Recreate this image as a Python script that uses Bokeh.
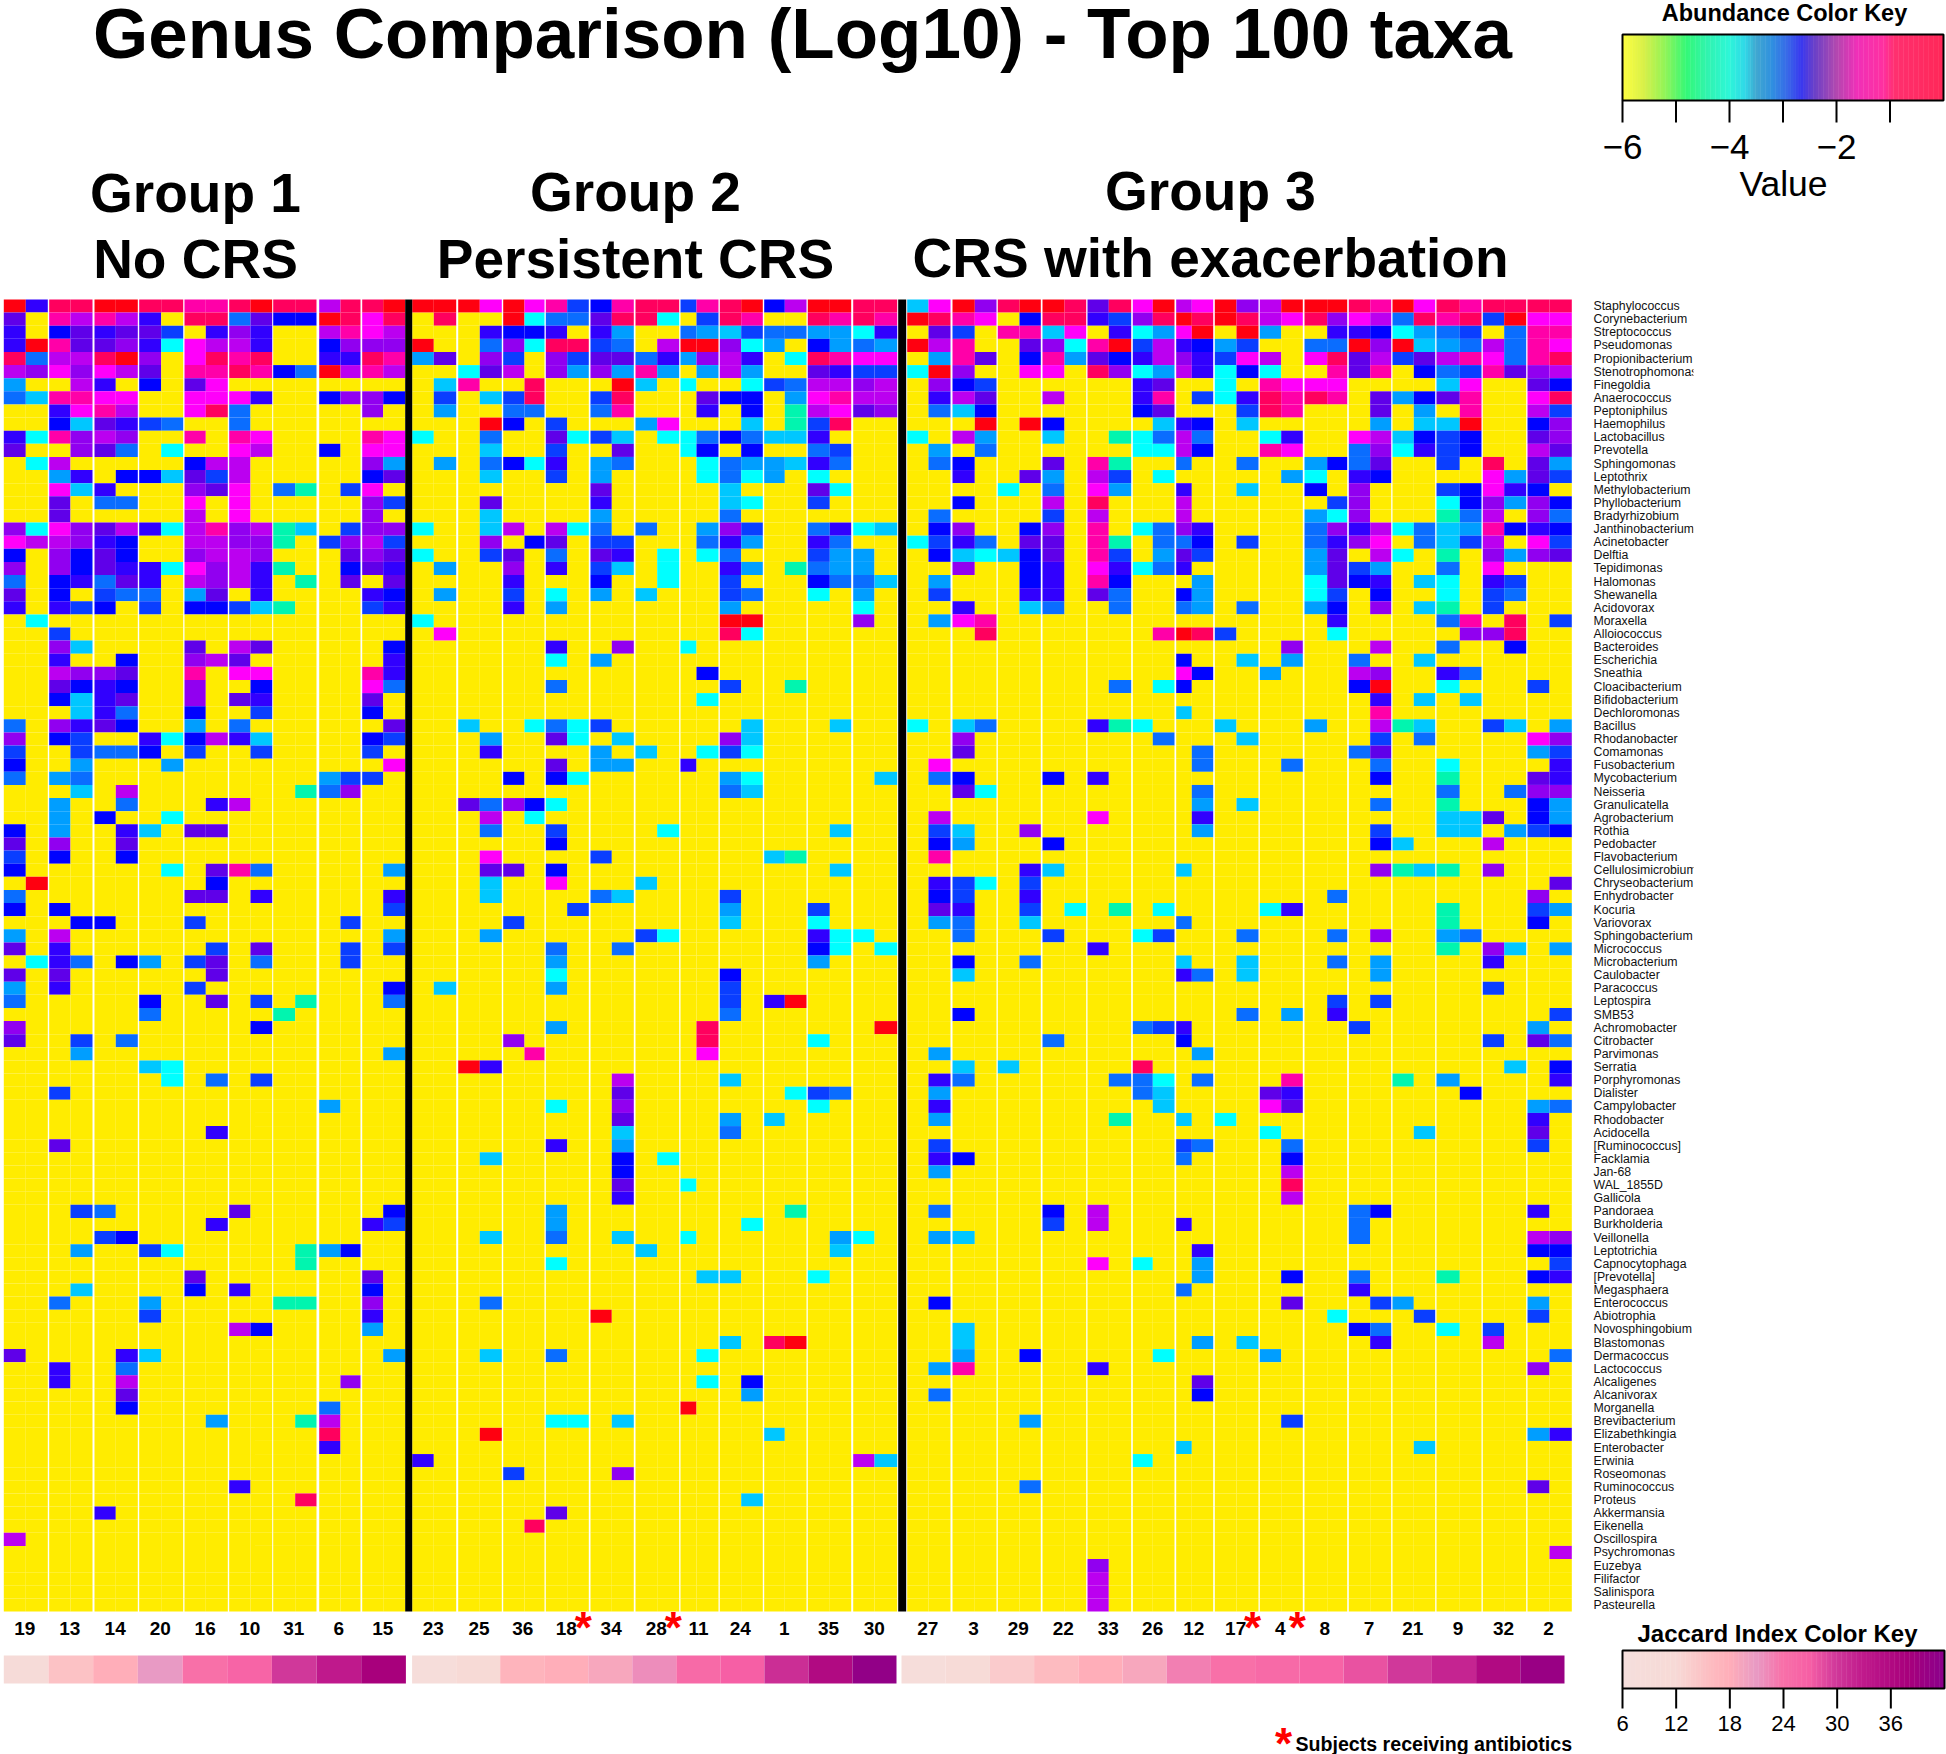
import numpy as np
from bokeh.embed import file_html
from bokeh.resources import INLINE
from bokeh.plotting import figure
from bokeh.models import ColumnDataSource, LinearColorMapper, Range1d
from bokeh.core.properties import value

# ---------- data ----------
chart_title = "Genus Comparison (Log10) - Top 100 taxa"
group_titles = [("Group 1", "No CRS"), ("Group 2", "Persistent CRS"), ("Group 3", "CRS with exacerbation")]

taxa = ["Staphylococcus", "Corynebacterium", "Streptococcus", "Pseudomonas", "Propionibacterium", "Stenotrophomonas",
        "Finegoldia", "Anaerococcus", "Peptoniphilus", "Haemophilus", "Lactobacillus", "Prevotella", "Sphingomonas",
        "Leptothrix", "Methylobacterium", "Phyllobacterium", "Bradyrhizobium", "Janthinobacterium", "Acinetobacter",
        "Delftia", "Tepidimonas", "Halomonas", "Shewanella", "Acidovorax", "Moraxella", "Alloiococcus", "Bacteroides",
        "Escherichia", "Sneathia", "Cloacibacterium", "Bifidobacterium", "Dechloromonas", "Bacillus", "Rhodanobacter",
        "Comamonas", "Fusobacterium", "Mycobacterium", "Neisseria", "Granulicatella", "Agrobacterium", "Rothia",
        "Pedobacter", "Flavobacterium", "Cellulosimicrobium", "Chryseobacterium", "Enhydrobacter", "Kocuria",
        "Variovorax", "Sphingobacterium", "Micrococcus", "Microbacterium", "Caulobacter", "Paracoccus", "Leptospira",
        "SMB53", "Achromobacter", "Citrobacter", "Parvimonas", "Serratia", "Porphyromonas", "Dialister", "Campylobacter",
        "Rhodobacter", "Acidocella", "[Ruminococcus]", "Facklamia", "Jan-68", "WAL_1855D", "Gallicola", "Pandoraea",
        "Burkholderia", "Veillonella", "Leptotrichia", "Capnocytophaga", "[Prevotella]", "Megasphaera", "Enterococcus",
        "Abiotrophia", "Novosphingobium", "Blastomonas", "Dermacoccus", "Lactococcus", "Alcaligenes", "Alcanivorax",
        "Morganella", "Brevibacterium", "Elizabethkingia", "Enterobacter", "Erwinia", "Roseomonas", "Ruminococcus",
        "Proteus", "Akkermansia", "Eikenella", "Oscillospira", "Psychromonas", "Euzebya", "Filifactor", "Salinispora",
        "Pasteurella"]

subjects_g1 = ["19", "13", "14", "20", "16", "10", "31", "6", "15"]
subjects_g2 = ["23", "25", "36", "18", "34", "28", "11", "24", "1", "35", "30"]
subjects_g3 = ["27", "3", "29", "22", "33", "26", "12", "17", "4", "8", "7", "21", "9", "32", "2"]
on_antibiotics = ["18", "28", "17", "4"]

jaccard_g1 = [10, 15, 18, 21, 24, 26, 30, 33, 38]
jaccard_g2 = [8, 12, 17, 18, 19, 22, 25, 27, 31, 36, 41]
jaccard_g3 = [8, 11, 14, 16, 18, 19, 23, 24, 25, 26, 28, 30, 32, 36, 40]

# log10 abundance: one letter per cell, two cells per subject
abundance_levels = {".": -6.0, "a": -4.3, "c": -4.0, "d": -3.7, "e": -3.4, "f": -3.1, "g": -2.9, "h": -2.7,
                    "i": -2.5, "j": -2.3, "k": -2.1, "l": -1.9, "m": -1.5, "n": -1.2, "o": -0.9, "p": -0.6}

rows_g1 = [
 "pi oo pp oo nn op oo lo op", "j. nl nl i. oo fj hh po mo", "i. hj ij jg .i ki .. ln ml", "ip nj jk ic ml li .. hk kk",
 "of ll op k. mo no .. ii on", "lk mk ml j. nn on hf pl nl", "e. .l i. h. jm .. .. .. ..", "fd nn mm .. mm mi .. hk kh",
 ".. im nl .. mo f. .. .. k.", ".. hd ji gf .. f. .. .. ..", "ic nk lk .. n. nm .. .. nm", "j. .k jf .c .. ml .. h. mm",
 ".c l. .. .. hl l. .. .. ke", ".. ei .h hd jg l. .. .. hj", ".. md i. .. kj m. fa .g m.", ".. j. ff .. m. m. .. .. kg",
 ".. j. .. .. l. m. .. .. k.", "kc mk jl ic ln kl ad .g kk", "ml lk ih .. ll kk a. gk lg", "h. kh jh .. kl lk .. .j kj",
 "k. kh ji ic mk li a. .h ji", "f. hi fj i. lk li .a .j .j", "j. h. gf f. ej .i .. .. ih", "i. ig h. g. hh gd a. .. gi",
 ".c .. .. .. .. .. .. .. ..", ".. g. .. .. .. .. .. .. ..", ".. kd .. .. j. lj .. .. .h", ".. i. .h .. kl j. .. .. .i",
 ".. lk kj .. n. mm .. .. ni", ".. jh ih .. k. .h .. .. mf", ".. hd ij .. k. ji .. .. j.", ".. .d if .. h. .g .. .. h.",
 "f. ki jh .. e. f. .. .. .j", "k. hg .. ic hl id .. .. hg", "g. .g ff h. g. .g .. .. g.", "h. .e .. .e .. .. .. .. .m",
 "f. ef .. .. .. .. .. eg g.", ".. .d .l .. .. .. .a fk ..", ".. e. .f .. .i l. .. .. ..", ".. e. h. .c .. .. .. .. ..",
 "h. e. .i d. jj .. .. .. ..", "j. k. .j .. .. .. .. .. ..", "g. h. .h .. .. .. .. .. ..", "h. .. .. .c .j nf .. .. .e",
 ".p .. .. .. .h .. .. .. ..", "f. .. .. .. jj .i .. .. .i", "h. h. .. .. .. .. .. .. .g", ".. .h h. .. g. .. .. .g ..",
 "e. l. .. .. .. .. .. .. .e", "j. i. .. .. .g .j .. .g .g", ".c if .h e. gj .f .. .g ..", "j. j. .. .. .j .. .. .. ..",
 "e. i. .. .. g. .. .. .. .h", "f. .. .. h. .j .g .a .. .f", ".. .. .. f. .. .. a. .. ..", "k. .. .. .. .. .h .. .. ..",
 "j. .g .f .. .. .. .. .. ..", ".. .e .. .. .. .. .. .. .e", ".. .. .. dc .. .. .. .. ..", ".. .. .. .c .f .g .. .. ..",
 ".. g. .. .. .. .. .. .. ..", ".. .. .. .. .. .. .. e. ..", "", ".. .. .. .. .i .. .. .. ..",
 ".. j. .. .. .. .. .. .. ..", "", "", "", "", ".. .g f. .. .. j. .. .. .h",
 ".. .. .. .. .i .. .. .. ig", ".. .. gh .. .. .. .. .. ..", ".. .e .. gc .. .. .a eh ..", ".. .. .. .. .. .. .a .. ..",
 ".. .. .. .. j. .. .. .. j.", ".. .d .. .. h. i. .. .. h.", ".. f. .. e. .. .. aa .. k.", ".. .. .. g. .. .. .. .. i.",
 ".. .. .. .. .. lh .. .. e.", "", "j. .. .i d. .. .. .. .. .e", ".. i. .f .. .. .. .. .. ..",
 ".. i. .l .. .. .. .. .k ..", ".. .. .j .. .. .. .. .. ..", ".. .. .h .. .. .. .. f. ..", ".. .. .. .. .e .. .a l. ..",
 ".. .. .. .. .. .. .. o. ..", ".. .. .. .. .. .. .. i. ..", "", "", ".. .. .. .. .. i. .. .. ..",
 ".. .. .. .. .. .. .o .. ..", ".. .. i. .. .. .. .. .. ..", "", "l. .. .. .. .. .. .. .. ..", "", "", "", "", "",
]

rows_g2 = [
 "pp pm pm ng hn oo gn op hl pp oo", ".o .. pc ff jo oc .g on .. on on", ".. .i hh i. ie .. fe dg ff ee ci", "p. .f kc oo gf .l pp kc e. he fe",
 "ej .k g. kg jj fi ek li .c on mm", ".. cj l. ke ke ne .e le .. ji gg", ".d n. .o .. .p d. c. .c gf ll kl", ".g .d go .. go .. .j hh .e mn ll",
 ".e .. ff .. fn .. .i .h .a lm jk", ".. .p h. g. .. em .. .d .a go ..", "c. .f .. jc gd .c cf hf dd i. ..", ".. .d .. g. .j .. ch .h .. fg ..",
 ".e .f hc i. ef .. .c fe ed if ..", ".. .d .. g. e. .. .c fc e. c. ..", ".. .. .. .. j. .. .. d. .. jc ..", ".. .j .. .. i. .. .. dc .. g. ..",
 ".. .d .. .. e. .. .. f. .. .. ..", "c. .d l. lc f. f. .e kg .. fi cd", ".. .k .h j. gg .. .f ie .. if ..", "c. .g j. f. ji .c .c f. .. ge e.",
 ".e .. k. i. gd .c .. ie .a fe e.", ".. .. i. .. h. .c .. g. .. hf fd", ".e .. g. c. e. d. .. gf .. c. e.", ".. .. i. e. .. .. .. e. .. .. c.",
 "c. .. .. .. .. .. .. pp .. .. k.", ".m .. .. .. .. .. .. oc .. .. ..", ".. .. .. i. .k .. c. .. .. .. ..", ".. .. .. c. e. .. .. .. .. .. ..",
 ".. .. .. .. .. .. .h .. .. .. ..", ".. .. .. f. .. .. .. g. .a .. ..", ".. .. .. .. .. .. .c .. .. .. ..", "",
 ".. d. .c fc g. .. .. .d .. .d ..", ".. .e .. jc .d .. .. kd .. .. ..", ".. .i .. .. e. d. .c gc .. .. ..", ".. .. .. j. ee .. i. .. .. .. ..",
 ".. .. h. hc .. .. .. ec .. .. .d", ".. .. .. .. .. .. .. fd .. .. ..", ".. jf kh c. .. .. .. .. .. .. ..", ".. .l .c .. .. .. .. .. .. .. ..",
 ".. .f .. g. .. .c .. .. .. .d ..", ".. .. .. h. .. .. .. .. .. .. ..", ".. .m .. .. g. .. .. .. da .. ..", ".. .j j. h. .. .. .. .. .. .d ..",
 ".. .d .. m. .. d. .. .. .. .. ..", ".. .d .. .. fd .. .. g. .. .. ..", ".. .. .. .g .. .. .. e. .. g. ..", ".. .. g. .. .. .. .. d. .. c. ..",
 ".. .e .. .. .. gc .. .. .. ic c.", ".. .. .. f. .f .. .. .. .. hc .c", ".. .. .. e. .. .. .. .. .. e. ..", ".. .. .. c. .. .. .. h. .. .. ..",
 ".d .. .. e. .. .. .. g. .. .. ..", ".. .. .. .. .. .. .. g. ip .. ..", ".. .. .. .. .. .. .. f. .. .. ..", ".. .. .. e. .. .. .o .. .. .. .p",
 ".. .. k. .. .. .. .o .. .. c. ..", ".. .. .n .. .. .. .m .. .. .. ..", ".. pi .. .. .. .. .. .. .. .. ..", ".. .. .. .. .l .. .. d. .. .. ..",
 ".. .. .. .. .j .. .. .. .c gf ..", ".. .. .. c. .k .. .. .. .. c. ..", ".. .. .. .. .j .. .. e. d. .. ..", ".. .. .. .. .d .. .. f. .. .. ..",
 ".. .. .. i. .e .. .. .. .. .. ..", ".. .d .. .. .h .c .. .. .. .. ..", ".. .. .. .. .h .. .. .. .. .. ..", ".. .. .. .. .j .. c. .. .. .. ..",
 ".. .. .. .. .i .. .. .. .. .. ..", ".. .. .. e. .. .. .. .. .a .. ..", ".. .. .. e. .. .. .. .c .. .. ..", ".. .d .. f. .d .. c. .. .. .e c.",
 ".. .. .. .. .. d. .. .. .. .d ..", ".. .. .. c. .. .. .. .. .. .. ..", ".. .. .. .. .. .. .d d. .. c. ..", "",
 ".. .f .. .. .. .. .. .. .. .. ..", ".. .. .. .. p. .. .. .. .. .. ..", "", ".. .. .. .. .. .. .. d. op .. ..",
 ".. .d .. f. .. .. .c .. .. .. ..", "", ".. .. .. .. .. .. .c .h .. .. ..", ".. .. .. .. .. .. .. .e .. .. ..",
 ".. .. .. .. .. .. p. .. .. .. ..", ".. .. .. cc .d .. .. .. .. .. ..", ".. .p .. .. .. .. .. .. d. .. ..", "",
 "i. .. .. .. .. .. .. .. .. .. ld", ".. .. g. .. .k .. .. .. .. .. ..", "", ".. .. .. .. .. .. .. .d .. .. ..",
 ".. .. .. j. .. .. .. .. .. .. ..", ".. .. .o .. .. .. .. .. .. .. ..", "", "", "", "", "", "",
]

rows_g3 = [
 "dm pk op po jo mp lm pk lp pp on pm on oo oo", "po nm .h oo ig ko po po lm ok ml fo no gp mm", ".j g. nn dm .i ce mp .p e. .i ih ce fg .f nn",
 "pl n. .j kc np gl ih eg .. ff pk pd ef lf nm", ".e nj .h ne jh il ki gm l. mo jl gj ln mf no", "cp k. .m m. ok ce li ch c. .n jn .h fg nj kl",
 ".k hg .. .. .. ij .. c. nm mm .. .. dm .. jh", ".i lj .. l. .. in .g ci on on .j eh jn .. mo", ".f dh .. .. .. hj .. .g on .. .j .e .n .. lg",
 ".. .p .p h. .. .d ih .d .. .. .e .d dp .. hk", "c. le .. d. .a cf lf .. ci .. ml dh gh .. jk", ".e .f .. .. .. cc lh .. nm .. fk ci gh .. lj",
 ".f h. .. j. na .. f. .f .. eh fj .. g. o. je", ".. i. .j e. lg .c .. .. .e c. ih .. .. me jg", ".. .. c. f. me .. i. .d .. h. k. .. gh mi h.",
 ".. h. .. l. o. .. l. .. .. .g k. .. ch ke kh", ".f .. .. g. l. .. l. .. .. ec k. .. af l. kf", ".h k. .h k. n. cf ki .. .. fk il cf de nh ih",
 "cg if .j j. na .f fh .g .. fi km .f dg l. mg", ".h dc dh j. ng .e jg .. .. ej .l c. a. ke kj", ".. k. .h i. mi cf i. .. .. ej ge .. f. m. ..",
 ".e .. .h i. nh .. .e .. .. cj hi .d c. ig ..", ".g .. .i i. jf .. he .. .. cg .h .. c. gf ..", ".. i. .d f. .f .. fe .f .. eh .k .d a. g. ..",
 ".e mn .. .. .. .. .. .. .. .i .. .. fn .o .g", ".. .o .. .. .. .n po g. .. .c .. .. .k ko ..", ".. .. .. .. .. .. .. .. .k .. .l .. f. .h ..",
 ".. .. .. .. .. .. h. .d .e .. f. .d .. .. ..", ".. .. .. .. .. .. mh .. e. .. lk .. if .. ..", ".. .. .. .. .f .c h. .. .. .. hp .. c. .. g.",
 ".. .. .. .. .. .. .. .. .. .. .i .d .d .. ..", ".. .. .. .. .. .. d. .. .. .. .n .. .. .. ..", "c. df .. .. ia c. .. d. .. e. .l ad .. gd .e",
 ".. k. .. .. .. .f .. .d .. .. .g .f .. .. mk", ".. j. .. .. .. .. .f .. .. .. fj .. .. .. eg", ".m .. .. .. .. .. .f .. .f .. .f .. c. .. .i",
 ".f h. .. h. i. .. .. .. .. .. .h .. a. .. ji", ".. jc .. .. .. .. .f .. .. .. .. .. f. .f kk", ".. .. .. .. .. .. .e .d .. .. .f .. a. .. he",
 ".l .. .. .. m. .. .i .. .. .. .. .. dd j. he", ".g d. .k .. .. .. .e .. .. .. .g .. dd .e gh", ".h e. .. h. .. .. .. .. .. .. .h d. .. l. ..",
 ".n .. .. .. .. .. .. .. .. .. .. .. .. .. ..", ".. .. .i d. .. .. d. .. .. .. .k ad a. k. ..", ".i gc .g .. .. .. .. .. .. .. .. .. .. .. .j",
 ".h g. .i .. .. .. .. .. .. .f .. .. .. .. k.", ".j i. .g .c .a .c .. .. ci .. .. .. a. .. ge", ".e f. .d .. .. .. f. .. .. .. .. .. a. .. h.",
 ".. f. .. g. .. cg .. .f .. .f .k .. ef .. ..", ".. .. .. .. i. .. .. .. .. .. .. .. a. kd .e", ".. h. .f .. .. .. d. .d .. .f .e .. .. i. ..",
 ".. d. .. .. .. .. if .d .. .. .e .. .. .. ..", ".. .. .. .. .. .. .. .. .. .. .. .. .. g. ..", ".. .. .. .. .. .. .. .. .. .g .g .. .. .. ..",
 ".. h. .. .. .. .. .. .f .e .i .. .. .. .. .g", ".. .. .. .. .. fg i. .. .. .. g. .. .. .. e.", ".. .. .. f. .. .. h. .. .. .. .. .. .. g. jf",
 ".e .. .. .. .. .. .e .. .. .. .. .. .. .. ..", ".. d. d. .. .. o. .. .. .. .. .. .. .. .d .h", ".i f. .. .. .f fc .f .. .n .. .. a. e. .. .i",
 ".e .. .. .. .. fd .. .. ji .. .. .. .h .. ..", ".i .. .. .. .. .d .. .. mj .. .. .. .. .. ef", ".e .. .. .. .a .. d. c. .. .. .. .. .. .. i.",
 ".. .. .. .. .. .. .. .. c. .. .. .d .. .. j.", ".g .. .. .. .. .. gf .. .f .. .. .. .. .. g.", ".i h. .. .. .. .. f. .. .h .. .. .. .. .. ..",
 ".e .. .. .. .. .. .. .. .l .. .. .. .. .. ..", ".. .. .. .. .. .. .. .. .o .. .. .. .. .. ..", ".. .. .. .. .. .. .. .. .l .. .. .. .. .. ..",
 ".f .. .. h. l. .. .. .. .. .. fh .. .. .. i.", ".. .. .. g. l. .. i. .. .. .. f. .. .. .. ..", ".e d. .. .. .. .. .. .. .. .. f. .. .. .. lk",
 ".. .. .. .. .. .. .i .. .. .. .. .. .. .. hh", ".. .. .. .. m. c. .e .. .. .. .. .. .. .. .g", ".. .. .. .. .. .. .e .. .h .. f. .. a. .. hi",
 ".. .. .. .. .. .. f. .. .. .. i. .. .. .. ..", ".h .. .. .. .. .. .. .. .j .. .g e. .. .. e.", ".. .. .. .. .. .. .. .. .. .c .. .g .. .. g.",
 ".. d. .. .. .. .. .. .. .. .. hf .. c. g. ..", ".. d. .. .. .. .. .e .d .. .. .i .. .. l. ..", ".. e. .h .. .. .c .. .. e. .. .. .. .. .. .f",
 ".e n. .. .. i. .. .. .. .. .. .. .. .. .. k.", ".. .. .. .. .. .. .j .. .. .. .. .. .. .. ..", ".f .. .. .. .. .. .h .. .. .. .. .. .. .. ..",
 "", ".. .. .e .. .. .. .. .. .g .. .. .. .. .. ..", ".. .. .. .. .. .. .. .. .. .. .. .. .. .. ei",
 ".. .. .. .. .. .. d. .. .. .. .. .d .. .. ..", ".. .. .. .. .. c. .. .. .. .. .. .. .. .. ..", "",
 ".. .. .f .. .. .. .. .. .. .. .. .. .. .. j.", "", "", "", "", ".. .. .. .. .. .. .. .. .. .. .. .. .. .. .l",
 ".. .. .. .. k. .. .. .. .. .. .. .. .. .. ..", ".. .. .. .. l. .. .. .. .. .. .. .. .. .. ..",
 ".. .. .. .. l. .. .. .. .. .. .. .. .. .. ..", ".. .. .. .. l. .. .. .. .. .. .. .. .. .. ..",
]

# ---------- layout (positions in page pixels; the page is drawn 1:1) ----------
W, H = 1946, 1754
# left / split / right of every subject's pair of cells
pair_edges = [
 (3.3, 25.3, 47.3), (48.7, 70, 92), (94, 115.3, 137.3), (138.7, 160.7, 182.7), (184, 205.3, 227.3), (228.7, 250, 271.7),
 (272.7, 294.7, 316), (318.7, 340, 360), (361.7, 382.7, 404.7),
 (411.7, 433.3, 455.7), (457.7, 479.3, 501.3), (502.7, 524, 544), (545.3, 566.7, 588.3), (590, 611.3, 633.3),
 (635, 656.7, 678.7), (680, 696, 718), (719.3, 740.7, 762.3), (763.7, 784.3, 806), (807.3, 829.3, 850.7), (852.7, 874, 896.7),
 (906.7, 928, 950), (952, 974.3, 996), (997.3, 1019, 1040.3), (1042, 1064, 1085.7), (1087, 1108.3, 1130.7), (1132.3, 1152.3, 1174),
 (1175.7, 1191.3, 1212.7), (1214.3, 1236, 1258), (1259.3, 1280.7, 1302.3), (1304, 1326.7, 1346.7), (1348.3, 1369.7, 1390.7),
 (1392, 1413.3, 1434.7), (1436, 1459.3, 1481), (1482.3, 1503.7, 1525.7), (1527, 1549, 1571.3)]
heat_top, heat_bottom = 299.0, 1611.0
row_h = (heat_bottom - heat_top) / len(taxa)


def ramp(stops, n=256):
    xs = [s[0] for s in stops]
    rgb = np.array([[int(s[1][i:i + 2], 16) for i in (1, 3, 5)] for s in stops], float)
    t = np.linspace(xs[0], xs[-1], n)
    return ["#%02x%02x%02x" % tuple(int(round(np.interp(v, xs, rgb[:, k]))) for k in range(3)) for v in t]


heat_palette = ramp([(-6, "#FFEC00"), (-4.3, "#00F5B0"), (-4.0, "#00FFFF"), (-3.7, "#00C8FF"), (-3.4, "#009CFF"),
                     (-3.1, "#0A6CFF"), (-2.9, "#0A40FF"), (-2.7, "#0000FF"), (-2.5, "#3000FF"), (-2.3, "#6000E8"),
                     (-2.1, "#9000F0"), (-1.9, "#BC00F0"), (-1.5, "#FF00FF"), (-1.2, "#FF00A8"), (-0.9, "#FF0060"),
                     (-0.6, "#FF0010"), (0, "#FF0000")])
key_palette = ramp([(-6, "#FFFF40"), (-5.6, "#D8F048"), (-5.2, "#90F458"), (-4.8, "#34F878"), (-4.4, "#30F4B0"),
                    (-4.0, "#2EF6D8"), (-3.7, "#30D8E8"), (-3.5, "#40A8D0"), (-3.2, "#3090E0"), (-2.9, "#3868E8"),
                    (-2.65, "#3838F0"), (-2.4, "#6A40C8"), (-2.0, "#B048B0"), (-1.6, "#F030B8"), (-1.1, "#FF30A0"),
                    (-0.9, "#FF3070"), (0, "#FF2858")])
jaccard_palette = ramp([(6, "#F5DEDC"), (12, "#F7DAD6"), (16, "#FDBBC0"), (18, "#FFAEB9"), (21, "#E89AC4"), (24, "#F870A8"),
                        (27, "#F65FA5"), (30, "#D0389A"), (33, "#C01A8C"), (38, "#A8007C"), (42, "#8B008B")])
heat_mapper = LinearColorMapper(palette=heat_palette, low=-6, high=0)
key_mapper = LinearColorMapper(palette=key_palette, low=-6, high=0)
jaccard_mapper = LinearColorMapper(palette=jaccard_palette, low=6, high=42)

p = figure(width=W, height=H, output_backend="svg", toolbar_location=None,
           x_range=Range1d(0, W), y_range=Range1d(H, 0), min_border=0, outline_line_color=None)
p.axis.visible = False
p.grid.visible = False


def label(x, y, txt, size, bold=False, align="center", color="#000000", baseline="middle", font="Liberation Sans"):
    p.text(x=[x], y=[y], text=[txt], text_font=value(font), text_font_size=f"{size}px",
           text_font_style="bold" if bold else "normal", text_align=align, text_baseline=baseline, text_color=color)


# heat map
col_x0, col_x1 = [], []
for a, b, c in pair_edges:
    col_x0 += [a, b]
    col_x1 += [b, c]
cells = {"l": [], "r": [], "t": [], "b": [], "v": []}
n_pairs = (len(subjects_g1), len(subjects_g2), len(subjects_g3))
for r in range(len(taxa)):
    codes = ""
    for rows, n in zip((rows_g1, rows_g2, rows_g3), n_pairs):
        s = rows[r].replace(" ", "") or "." * (2 * n)
        assert len(s) == 2 * n, (r, rows[r])
        codes += s
    for c, code in enumerate(codes):
        cells["l"].append(col_x0[c])
        cells["r"].append(col_x1[c])
        cells["t"].append(heat_top + r * row_h)
        cells["b"].append(heat_top + (r + 1) * row_h)
        cells["v"].append(abundance_levels[code])
p.quad(left="l", right="r", top="t", bottom="b", source=ColumnDataSource(cells),
       fill_color={"field": "v", "transform": heat_mapper}, line_color=None)

# separators between the groups
p.quad(left=[404.7, 897.7], right=[411.7, 905.7], top=[heat_top] * 2, bottom=[heat_bottom] * 2,
       fill_color="#000000", line_color=None)

# taxa names, clipped on the right as in the source figure
p.text(x=[1593] * len(taxa), y=[heat_top + (i + 0.5) * row_h for i in range(len(taxa))], text=taxa,
       text_font=value("Liberation Sans"), text_font_size="12.3px", text_align="left", text_baseline="middle",
       text_color="#111111")
p.quad(left=[1693], right=[1712], top=[heat_top], bottom=[heat_bottom], fill_color="#ffffff", line_color=None)

# titles
label(802, 33, chart_title, 71, bold=True)
for (l1, l2), cx, y1, y2 in zip(group_titles, (195, 635, 1210), (192, 191, 190), (258, 258, 257)):
    label(cx, y1, l1, 55, bold=True)
    label(cx, y2, l2, 55, bold=True)

# subject labels and antibiotic marks
subjects = subjects_g1 + subjects_g2 + subjects_g3
for s, (a, b, c) in zip(subjects, pair_edges):
    cx = (a + c) / 2 - 1
    label(cx, 1628, s, 19, bold=True)
    if s in on_antibiotics:
        label(cx + 17, 1627, "*", 44, bold=True, color="#FF0000", baseline="alphabetic")

# Jaccard bars
for vals, x0, x1 in ((jaccard_g1, 3.3, 405.4), (jaccard_g2, 411.6, 896), (jaccard_g3, 901, 1564)):
    e = np.linspace(x0, x1, len(vals) + 1)
    src = ColumnDataSource(dict(l=e[:-1], r=e[1:], t=[1655] * len(vals), b=[1683] * len(vals), v=vals))
    p.quad(left="l", right="r", top="t", bottom="b", source=src,
           fill_color={"field": "v", "transform": jaccard_mapper}, line_color=None)


# colour keys
def colour_key(x0, x1, y0, y1, vmin, vmax, mapper, ticks, tick_labels, tick_end, label_y, size, lw):
    scale = (x1 - x0) / (vmax - vmin)
    v = np.linspace(vmin, vmax, 129)
    mids = (v[:-1] + v[1:]) / 2
    src = ColumnDataSource(dict(l=x0 + (v[:-1] - vmin) * scale, r=x0 + (v[1:] - vmin) * scale + 0.4,
                                t=[y0] * 128, b=[y1] * 128, v=mids))
    p.quad(left="l", right="r", top="t", bottom="b", source=src,
           fill_color={"field": "v", "transform": mapper}, line_color=None)
    p.quad(left=[x0], right=[x1], top=[y0], bottom=[y1], fill_color=None, line_color="#000000", line_width=lw)
    tx = [x0 + (t - vmin) * scale for t in ticks]
    p.segment(x0=tx, x1=tx, y0=[y1] * len(tx), y1=[tick_end] * len(tx), line_color="#000000", line_width=lw)
    for t, s in zip(tx, tick_labels):
        if s:
            label(t, label_y, s, size)


abund_ticks = [-6, -5, -4, -3, -2, -1]
abund_tick_labels = ["\u22126", "", "\u22124", "", "\u22122", ""]
colour_key(1622, 1943, 34, 100, -6, 0, key_mapper, abund_ticks, abund_tick_labels, 122, 146, 35, 2)
label(1784, 12, "Abundance Color Key", 23.5, bold=True)
label(1783, 183, "Value", 35.5)

jaccard_ticks = [6, 12, 18, 24, 30, 36]
colour_key(1622, 1944, 1650, 1688, 6, 42, jaccard_mapper, jaccard_ticks, [str(t) for t in jaccard_ticks], 1708, 1723, 22, 2)
label(1777, 1633, "Jaccard Index Color Key", 24, bold=True)

label(1283, 1743, "*", 44, bold=True, color="#FF0000", baseline="alphabetic")
label(1295, 1743, "Subjects receiving antibiotics", 19.6, bold=True, align="left")

open("out.html", "w").write(file_html(p, INLINE))
